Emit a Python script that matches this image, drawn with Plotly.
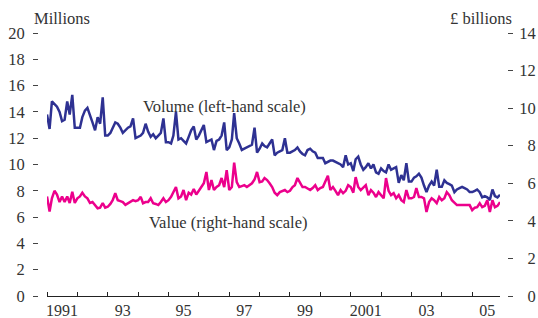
import pandas as pd
import plotly.graph_objects as go

# Monthly data, Jan 1991 - Dec 2005
months = pd.date_range("1991-01-01", periods=180, freq="MS")

# Volume, millions (left-hand scale)
volume = [
    13.8, 12.7, 14.8, 14.6, 14.4, 14.0, 13.3, 13.4, 14.8, 13.8, 15.3, 12.8,   # 1991
    12.8, 12.8, 13.6, 14.1, 14.3, 13.8, 13.2, 12.6, 13.6, 13.1, 15.1, 12.2,   # 1992
    12.2, 12.4, 12.8, 13.2, 13.1, 12.8, 12.4, 12.6, 12.8, 12.9, 13.5, 12.0,   # 1993
    12.1, 12.2, 12.4, 13.1, 12.5, 12.1, 12.3, 12.0, 12.2, 12.4, 13.5, 11.7,   # 1994
    11.7, 11.6, 12.2, 14.0, 11.9, 12.0, 11.8, 11.6, 12.1, 12.6, 12.9, 11.9,   # 1995
    12.2, 12.6, 13.0, 11.7, 11.8, 11.9, 11.1, 11.8, 11.9, 12.2, 13.2, 11.1,   # 1996
    11.3, 11.9, 13.9, 12.0, 11.6, 11.1, 11.2, 11.3, 11.4, 11.5, 12.8, 10.9,   # 1997
    11.2, 11.6, 11.4, 11.3, 11.6, 11.9, 10.7, 10.9, 11.0, 11.1, 12.0, 10.9,   # 1998
    10.9, 11.0, 11.1, 11.3, 11.0, 10.8, 10.7, 11.1, 11.2, 11.0, 10.9, 10.5,   # 1999
    10.5, 10.5, 10.1, 10.2, 10.3, 10.3, 10.2, 10.1, 10.0, 9.8, 10.7, 10.0,    # 2000
    10.1, 9.5, 10.4, 10.6, 10.0, 9.6, 9.8, 10.1, 9.7, 10.0, 9.4, 9.3,         # 2001
    9.7, 9.5, 9.4, 10.0, 9.6, 9.7, 9.8, 8.6, 9.2, 8.8, 10.1, 8.7,             # 2002
    8.7, 9.0, 9.1, 9.3, 9.0, 8.4, 7.9, 8.4, 8.7, 8.4, 9.6, 8.3,               # 2003
    8.3, 8.8, 8.6, 8.5, 8.4, 7.9, 8.1, 8.2, 8.3, 8.2, 8.1, 7.9,               # 2004
    7.9, 8.0, 8.1, 7.9, 7.5, 7.6, 7.5, 7.3, 8.1, 7.6, 7.5, 7.7,               # 2005
]

# Value, £ billions (right-hand scale)
value = [
    5.3, 4.5, 5.2, 5.6, 5.4, 5.0, 5.3, 5.0, 5.3, 4.95, 5.55, 4.95,          # 1991
    5.2, 5.3, 5.5, 5.3, 5.2, 4.95, 5.0, 4.8, 4.67, 4.7, 4.95, 4.7,           # 1992
    4.75, 4.9, 5.1, 5.47, 5.1, 5.05, 5.0, 4.85, 4.95, 5.0, 5.1, 5.05,        # 1993
    5.1, 5.28, 4.94, 5.0, 5.0, 5.2, 4.94, 4.9, 4.84, 5.0, 5.2, 5.0,          # 1994
    5.1, 5.28, 5.5, 5.8, 5.2, 5.3, 5.64, 5.1, 5.5, 5.4, 5.7, 5.4,            # 1995
    5.6, 5.8, 6.0, 6.6, 5.64, 6.17, 5.64, 5.8, 5.9, 6.28, 5.8, 6.7,          # 1996
    5.64, 5.8, 7.1, 6.06, 5.8, 5.85, 5.9, 5.8, 5.9, 6.0, 6.2, 6.6,           # 1997
    6.06, 6.1, 6.28, 6.17, 6.0, 5.8, 5.5, 5.37, 5.53, 5.6, 5.64, 5.53,       # 1998
    5.6, 5.8, 5.9, 6.28, 6.0, 5.8, 5.8, 5.74, 5.64, 5.75, 5.9, 5.64,         # 1999
    5.75, 5.8, 6.1, 6.4, 5.64, 5.8, 5.6, 5.37, 5.64, 5.47, 5.6, 5.9,         # 2000
    5.8, 5.5, 6.33, 5.8, 5.64, 5.75, 5.9, 5.37, 5.64, 5.5, 5.27, 5.53,       # 2001
    5.35, 5.2, 6.28, 5.6, 5.37, 5.47, 5.2, 5.37, 5.1, 5.0, 5.64, 5.2,        # 2002
    5.2, 5.27, 5.74, 5.27, 5.27, 5.2, 4.47, 5.0, 5.2, 5.1, 4.94, 5.27,       # 2003
    5.1, 5.2, 5.53, 5.37, 5.1, 4.95, 4.84, 4.84, 4.84, 4.84, 4.84, 4.84,     # 2004
    4.57, 4.7, 4.73, 4.94, 4.73, 4.8, 5.1, 4.47, 5.1, 4.73, 4.8, 5.0,        # 2005
]

left_ticks = [0, 2, 4, 6, 8, 10, 12, 14, 16, 18, 20]
right_ticks = [0, 2, 4, 6, 8, 10, 12, 14]
right_ticktext = [("\u00a0\u00a0" + str(t)) if t < 10 else str(t) for t in right_ticks]
year_label_dates = ["1991-07-01", "1993-07-01", "1995-07-01", "1997-07-01",
                    "1999-07-01", "2001-07-01", "2003-07-01", "2005-07-01"]
year_labels = ["1991", "93", "95", "97", "99", "2001", "03", "05"]

BLUE = "#2E3192"
MAGENTA = "#EC008C"
TXT = "#333333"

fig = go.Figure()
fig.add_trace(go.Scatter(x=months, y=volume, mode="lines",
                         line=dict(color=BLUE, width=2.5), yaxis="y"))
fig.add_trace(go.Scatter(x=months, y=value, mode="lines",
                         line=dict(color=MAGENTA, width=2.5), yaxis="y2"))

fig.update_layout(
    width=538, height=318,
    margin=dict(l=38, r=31, t=33, b=22, autoexpand=False),
    paper_bgcolor="white", plot_bgcolor="white",
    showlegend=False,
    font=dict(family="Liberation Serif", size=16.5, color=TXT),
    xaxis=dict(
        domain=[0.01919, 0.98507], type="date", automargin=False,
        range=["1991-01-01", "2005-12-01"],
        tickmode="array", tickvals=year_label_dates, ticktext=year_labels,
        ticks="", showline=True, linecolor="#222222", linewidth=1,
        showgrid=False, zeroline=False, ticklabelstandoff=0,
        tickfont=dict(size=16),
        minor=dict(ticks="inside", dtick="M12", tick0="1991-01-01",
                   ticklen=4, tickcolor="#222222", tickwidth=1, showgrid=False),
    ),
    yaxis=dict(
        range=[0, 20], tickmode="array", tickvals=left_ticks, automargin=False,
        ticks="outside", ticklen=5, tickcolor="#444444", tickwidth=1.2,
        showline=False, showgrid=False, zeroline=False,
        anchor="free", position=0, ticklabelstandoff=5,
    ),
    yaxis2=dict(
        range=[0, 14], tickmode="array", tickvals=right_ticks, ticktext=right_ticktext,
        overlaying="y", side="right", anchor="free", position=1, automargin=False,
        ticks="outside", ticklen=5, tickcolor="#444444", tickwidth=1.2,
        showline=False, showgrid=False, zeroline=False, ticklabelstandoff=3,
    ),
    annotations=[
        dict(text="Millions", xref="paper", yref="paper", x=-0.0128, y=(296 - 18) / 263,
             xanchor="left", yanchor="middle", showarrow=False),
        dict(text="£ billions", xref="paper", yref="paper", x=(514 - 38) / 469, y=(296 - 19) / 263,
             xanchor="right", yanchor="middle", showarrow=False),
        dict(text="Volume (left-hand scale)", xref="paper", yref="paper",
             x=(141 - 38) / 469, y=(296 - 107) / 263,
             xanchor="left", yanchor="middle", showarrow=False),
        dict(text="Value (right-hand scale)", xref="paper", yref="paper",
             x=(147 - 38) / 469, y=(296 - 222) / 263,
             xanchor="left", yanchor="middle", showarrow=False),
    ],
)

# remove the page's default body margin so the 538x318 figure fills the window
fig.write_html(
    "out.html",
    config={"displayModeBar": False},
    post_script="document.body.style.margin='0';document.body.style.overflow='hidden';",
)
